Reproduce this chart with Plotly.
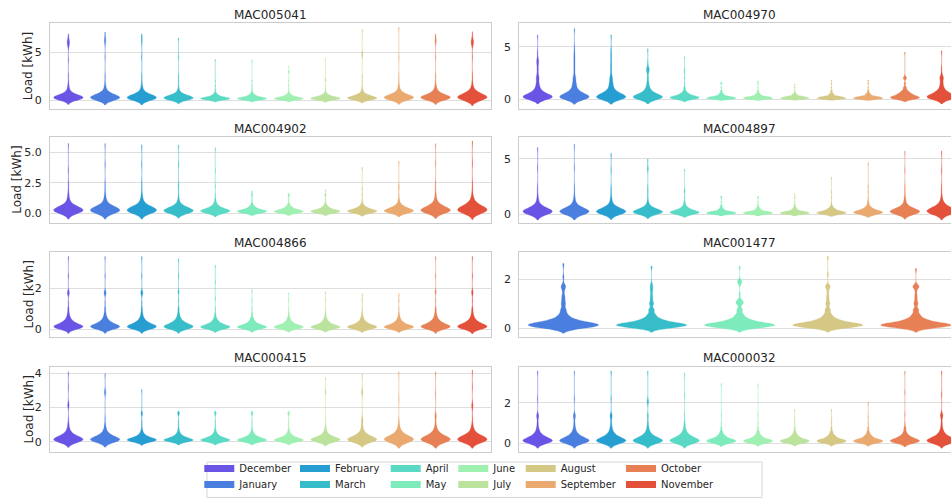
import math
import colorsys
import numpy as np
import plotly.graph_objects as go

# ---------------------------------------------------------------- data
MONTHS = ["December", "January", "February", "March", "April", "May",
          "June", "July", "August", "September", "October", "November"]
MAC001477_MONTHS = ["January", "March", "May", "August", "October"]

# sample levels (kWh) of the dense body of each distribution
BODY_LEVELS_LARGE = [0.0, 0.1, 0.2, 0.3, 0.45, 0.6, 0.8, 1.1, 1.5, 2.0]
BODY_LEVELS_SMALL = [0.0, 0.05, 0.1, 0.15, 0.2, 0.3, 0.4, 0.55, 0.75, 1.0]

# counts at the body levels, one row per month (December ... November)
MAC005041_COUNTS = [
    [6, 12, 16, 16, 12, 7, 4, 3, 2, 1], [6, 12, 16, 16, 12, 8, 5, 3, 2, 1],
    [6, 12, 16, 16, 12, 7, 4, 3, 2, 1], [7, 14, 16, 14, 10, 6, 3, 2, 1, 1],
    [10, 18, 18, 12, 7, 4, 2, 1, 1, 0], [10, 18, 18, 12, 7, 4, 2, 1, 1, 0],
    [10, 18, 18, 12, 7, 4, 2, 1, 1, 0], [9, 16, 18, 13, 8, 4, 2, 1, 1, 1],
    [8, 14, 16, 14, 10, 6, 3, 2, 1, 1], [6, 12, 16, 16, 12, 8, 5, 3, 2, 1],
    [6, 12, 15, 16, 13, 8, 5, 4, 2, 1], [5, 11, 15, 16, 13, 9, 6, 4, 2, 1]]
# sparse high readings (kWh), one list per month
MAC005041_TAILS = [
    [2.6, 4.2, 5.5, 5.8, 5.9, 6.0, 6.1, 6.2, 6.4, 6.8],
    [2.6, 4.5, 5.9, 6.2, 6.3, 6.5, 7.0],
    [2.6, 4.5, 6.0, 6.4, 6.8],
    [2.5, 4.5, 6.4],
    [2.0, 4.2], [2.0, 4.1], [2.0, 2.9, 3.0, 3.5], [2.2, 4.3],
    [2.5, 4.6, 4.8, 5.0, 7.3],
    [2.6, 4.5, 7.5],
    [2.6, 4.5, 6.0, 6.2, 6.4, 6.8],
    [2.6, 4.5, 5.8, 5.9, 6.0, 6.1, 6.2, 6.3, 7.0]]

MAC004970_COUNTS = [
    [8, 12, 14, 12, 10, 8, 6, 5, 4, 4], [8, 12, 14, 12, 10, 8, 6, 5, 5, 4],
    [8, 12, 14, 12, 10, 8, 6, 5, 5, 4], [8, 12, 14, 12, 9, 7, 5, 4, 3, 2],
    [10, 16, 16, 12, 8, 5, 3, 2, 1, 1], [14, 20, 16, 10, 5, 3, 2, 1, 1, 0],
    [14, 20, 16, 10, 5, 3, 2, 1, 1, 0], [14, 20, 16, 10, 5, 2, 1, 1, 0, 0],
    [14, 20, 16, 10, 5, 3, 2, 1, 1, 0], [14, 20, 16, 10, 5, 3, 2, 1, 1, 0],
    [10, 14, 14, 12, 10, 8, 6, 4, 2, 2], [8, 12, 14, 12, 10, 8, 6, 5, 4, 4]]
MAC004970_TAILS = [
    [2.3, 2.5, 2.8, 3.0, 3.3, 3.5, 3.6, 3.7, 4.0, 4.5, 6.0],
    [2.4, 2.7, 3.0, 3.3, 3.6, 3.9, 4.2, 4.5, 5.0, 6.6],
    [2.4, 2.7, 3.0, 3.3, 3.6, 4.0, 4.3, 4.7, 6.0],
    [2.5, 2.7, 2.8, 2.8, 2.9, 3.0, 3.5, 4.7],
    [2.5, 2.8, 4.0], [1.6], [1.7], [1.4], [1.8], [1.8],
    [2.0, 2.0, 2.2, 4.4],
    [2.0, 2.2, 2.5, 3.0, 4.5]]

MAC004902_COUNTS = [
    [6, 12, 16, 16, 12, 7, 4, 3, 2, 1], [6, 12, 16, 16, 12, 7, 4, 3, 2, 1],
    [6, 12, 16, 16, 12, 7, 4, 3, 2, 1], [7, 14, 16, 14, 10, 6, 3, 2, 1, 1],
    [8, 16, 18, 13, 8, 5, 3, 2, 1, 0], [10, 18, 18, 12, 7, 4, 2, 1, 1, 0],
    [10, 18, 18, 12, 7, 4, 2, 1, 1, 0], [10, 18, 18, 12, 7, 4, 2, 1, 1, 0],
    [9, 16, 18, 13, 8, 4, 2, 1, 1, 0], [8, 14, 16, 14, 10, 6, 3, 2, 1, 1],
    [6, 12, 16, 16, 12, 8, 5, 3, 2, 1], [5, 11, 15, 16, 13, 9, 6, 4, 2, 1]]
MAC004902_TAILS = [
    [2.5, 3.5, 5.6], [2.5, 4.0, 5.6],
    [2.5, 4.0, 5.5], [2.4, 4.0, 5.5],
    [2.2, 3.5, 5.3], [1.5, 1.8], [1.4, 1.6], [1.5, 1.9],
    [2.0, 3.7], [2.3, 4.2],
    [2.5, 4.1, 5.6], [2.5, 4.1, 5.8]]

MAC004897_COUNTS = [
    [6, 12, 16, 16, 12, 7, 4, 3, 2, 1], [6, 12, 16, 16, 12, 7, 4, 3, 2, 1],
    [6, 12, 16, 16, 12, 7, 4, 3, 2, 1], [7, 14, 16, 14, 10, 6, 3, 2, 1, 1],
    [10, 16, 16, 12, 8, 5, 3, 2, 1, 1], [14, 20, 16, 10, 5, 3, 2, 1, 1, 0],
    [14, 20, 16, 10, 5, 3, 2, 1, 1, 0], [14, 20, 16, 10, 5, 3, 2, 1, 1, 0],
    [12, 18, 16, 11, 7, 4, 2, 1, 1, 0], [10, 16, 16, 12, 8, 5, 3, 2, 1, 1],
    [6, 12, 16, 16, 12, 7, 4, 3, 2, 1], [5, 11, 15, 16, 13, 9, 6, 4, 2, 1]]
MAC004897_TAILS = [
    [2.5, 4.2, 5.9], [2.5, 4.2, 6.2],
    [2.4, 4.0, 5.4], [2.4, 4.0, 4.2, 4.9],
    [2.2, 4.0], [1.6], [1.6], [1.8], [2.0, 3.3], [2.5, 4.6],
    [2.5, 4.0, 5.6], [2.5, 4.0, 5.6]]

MAC004866_COUNTS = [
    [6, 10, 14, 14, 12, 10, 7, 5, 3, 2], [6, 10, 14, 14, 12, 10, 7, 5, 3, 2],
    [6, 10, 14, 14, 12, 10, 7, 5, 3, 2], [6, 10, 14, 14, 12, 10, 7, 5, 3, 2],
    [8, 12, 16, 14, 12, 9, 6, 4, 2, 1], [8, 12, 16, 14, 12, 9, 6, 4, 2, 1],
    [8, 12, 16, 14, 12, 9, 6, 4, 2, 1], [8, 12, 16, 14, 12, 9, 6, 4, 2, 1],
    [8, 12, 16, 14, 12, 9, 6, 4, 2, 1], [8, 12, 16, 14, 12, 9, 6, 4, 2, 1],
    [6, 10, 14, 14, 12, 10, 7, 5, 3, 2], [6, 10, 14, 14, 12, 10, 7, 5, 3, 2]]
MAC004866_TAILS = [
    [1.3, 1.7, 1.75, 1.8, 1.85, 2.6, 3.5],
    [1.3, 1.7, 1.75, 1.8, 1.85, 2.6, 3.5],
    [1.3, 1.7, 1.75, 1.8, 1.85, 2.6, 3.5],
    [1.4, 1.8, 1.85, 2.6, 3.4],
    [1.5, 2.3, 3.1], [1.4, 1.9], [1.4, 1.75], [1.4, 1.8],
    [1.4, 1.7], [1.4, 1.7],
    [1.4, 1.8, 1.85, 2.6, 3.5],
    [1.4, 1.75, 1.8, 1.85, 2.6, 3.5]]

# MAC001477: January, March, May, August, October
MAC001477_COUNTS = [
    [6, 12, 16, 18, 15, 10, 7, 5, 4, 3], [6, 12, 16, 18, 15, 10, 7, 5, 4, 3],
    [6, 12, 16, 18, 15, 10, 7, 5, 4, 3], [6, 12, 16, 18, 15, 10, 7, 5, 4, 3],
    [6, 12, 16, 18, 15, 10, 7, 5, 4, 3]]
MAC001477_TAILS = [
    [1.15, 1.25, 1.3, 1.45, 1.65, 1.7, 1.7, 1.75, 2.1, 2.6],
    [1.15, 1.25, 1.35, 1.5, 1.6, 1.7, 1.8, 2.5],
    [1.05, 1.1, 1.1, 1.15, 1.4, 1.8, 1.9, 1.9, 1.95, 2.5],
    [1.15, 1.25, 1.35, 1.5, 1.65, 1.7, 1.7, 1.75, 2.2, 2.9],
    [1.15, 1.25, 1.35, 1.5, 1.65, 1.7, 1.7, 1.72, 1.75, 2.4]]

MAC000415_COUNTS = [
    [6, 10, 14, 14, 12, 10, 7, 5, 3, 2], [6, 10, 14, 14, 12, 10, 7, 5, 3, 2],
    [8, 12, 16, 14, 12, 9, 6, 4, 2, 1], [8, 12, 16, 14, 12, 9, 6, 4, 2, 1],
    [8, 12, 16, 14, 12, 9, 6, 4, 2, 1], [8, 12, 16, 14, 12, 9, 6, 4, 2, 1],
    [8, 12, 16, 14, 12, 9, 6, 4, 2, 1], [7, 11, 15, 14, 12, 10, 6, 4, 3, 1],
    [6, 10, 14, 14, 12, 10, 7, 5, 3, 2], [6, 10, 14, 14, 12, 10, 7, 5, 3, 2],
    [6, 10, 14, 14, 12, 10, 7, 5, 3, 2], [6, 10, 14, 14, 12, 10, 7, 5, 3, 2]]
MAC000415_TAILS = [
    [1.3, 2.1, 2.15, 2.2, 3.2, 4.0],
    [1.4, 2.85, 2.9, 2.95, 3.9],
    [1.2, 1.6, 1.65, 1.7, 3.0],
    [1.2, 1.6, 1.65, 1.7, 1.75], [1.2, 1.6, 1.65, 1.7, 1.75],
    [1.2, 1.6, 1.65, 1.7, 1.75], [1.2, 1.6, 1.65, 1.7, 1.75],
    [1.3, 2.9, 2.95, 3.7],
    [1.25, 1.3, 1.35, 2.85, 2.9, 2.95, 3.9],
    [1.3, 2.5, 4.0],
    [1.45, 1.5, 1.55, 2.8, 4.0],
    [1.4, 2.05, 2.1, 2.15, 3.2, 4.1]]

MAC000032_COUNTS = [
    [6, 10, 14, 14, 12, 10, 7, 5, 3, 2], [6, 10, 14, 14, 12, 10, 7, 5, 3, 2],
    [6, 10, 14, 14, 12, 10, 7, 5, 3, 2], [6, 10, 14, 14, 12, 10, 7, 5, 3, 2],
    [6, 10, 14, 14, 12, 10, 7, 5, 3, 2], [8, 12, 16, 14, 12, 9, 6, 4, 2, 1],
    [8, 12, 16, 14, 12, 9, 6, 4, 2, 1], [8, 12, 16, 14, 12, 9, 6, 4, 2, 1],
    [8, 12, 16, 14, 12, 9, 6, 4, 2, 1], [8, 12, 16, 14, 12, 9, 6, 4, 2, 1],
    [7, 11, 15, 14, 12, 10, 6, 4, 3, 1], [6, 10, 14, 14, 12, 10, 7, 5, 3, 2]]
MAC000032_TAILS = [
    [1.3, 1.33, 1.36, 1.4, 2.2, 3.5],
    [1.3, 1.33, 1.36, 1.4, 2.2, 3.5],
    [1.3, 1.33, 1.36, 1.4, 2.2, 3.5],
    [1.34, 1.38, 2.0, 2.05, 2.1, 3.5],
    [1.4, 2.4, 3.4], [1.4, 2.9], [1.4, 2.9],
    [1.2, 1.64], [1.2, 1.64], [1.3, 1.97], [1.4, 2.5, 3.5],
    [1.3, 1.33, 1.36, 1.4, 1.45, 2.4, 3.5]]

Y_TICKS = {
    "MAC005041": ([0, 5], ["0", "5"]),
    "MAC004970": ([0, 5], ["0", "5"]),
    "MAC004902": ([0, 2.5, 5], ["0.0", "2.5", "5.0"]),
    "MAC004897": ([0, 5], ["0", "5"]),
    "MAC004866": ([0, 2], ["0", "2"]),
    "MAC001477": ([0, 2], ["0", "2"]),
    "MAC000415": ([0, 2, 4], ["0", "2", "4"]),
    "MAC000032": ([0, 2], ["0", "2"]),
}

# ---------------------------------------------------------------- style
# kernel bandwidth of each violin (kWh)
BANDWIDTH = {
    "MAC005041": [0.24, 0.26, 0.26, 0.2, 0.1, 0.1, 0.1, 0.12, 0.16, 0.24, 0.24, 0.3],
    "MAC004970": [0.22, 0.24, 0.24, 0.22, 0.12, 0.06, 0.06, 0.05, 0.05, 0.06, 0.12, 0.22],
    "MAC004902": [0.24, 0.24, 0.24, 0.2, 0.15, 0.1, 0.1, 0.1, 0.12, 0.15, 0.22, 0.26],
    "MAC004897": [0.26, 0.26, 0.24, 0.2, 0.14, 0.07, 0.07, 0.07, 0.1, 0.14, 0.22, 0.26],
    "MAC004866": [0.1, 0.1, 0.1, 0.1, 0.08, 0.07, 0.07, 0.07, 0.08, 0.08, 0.1, 0.11],
    "MAC001477": [0.1, 0.08, 0.08, 0.08, 0.08],
    "MAC000415": [0.16, 0.15, 0.1, 0.09, 0.09, 0.09, 0.09, 0.12, 0.15, 0.18, 0.18, 0.18],
    "MAC000032": [0.12, 0.12, 0.12, 0.12, 0.12, 0.08, 0.07, 0.07, 0.07, 0.07, 0.09, 0.12],
}

PANELS = [
    ("MAC005041", MONTHS, BODY_LEVELS_LARGE, MAC005041_COUNTS, MAC005041_TAILS),
    ("MAC004970", MONTHS, BODY_LEVELS_LARGE, MAC004970_COUNTS, MAC004970_TAILS),
    ("MAC004902", MONTHS, BODY_LEVELS_LARGE, MAC004902_COUNTS, MAC004902_TAILS),
    ("MAC004897", MONTHS, BODY_LEVELS_LARGE, MAC004897_COUNTS, MAC004897_TAILS),
    ("MAC004866", MONTHS, BODY_LEVELS_SMALL, MAC004866_COUNTS, MAC004866_TAILS),
    ("MAC001477", MAC001477_MONTHS, BODY_LEVELS_SMALL, MAC001477_COUNTS, MAC001477_TAILS),
    ("MAC000415", MONTHS, BODY_LEVELS_SMALL, MAC000415_COUNTS, MAC000415_TAILS),
    ("MAC000032", MONTHS, BODY_LEVELS_SMALL, MAC000032_COUNTS, MAC000032_TAILS),
]

Y_RANGES = {
    "MAC005041": [-0.94, 8.04], "MAC004970": [-0.92, 7.22],
    "MAC004902": [-0.82, 6.23], "MAC004897": [-0.81, 6.96],
    "MAC004866": [-0.39, 3.79], "MAC001477": [-0.37, 3.13],
    "MAC000415": [-0.60, 4.38], "MAC000032": [-0.44, 3.77],
}

W, H = 951, 499
COL_X = [(50.0, 490.7), (519.3, 951.0)]
FULL_COL_W = 440.7
ROW_Y = [(23.3, 109.0), (137.3, 223.3), (251.7, 337.3), (366.7, 452.3)]
Y_TITLE_X = [28.0, 17.5, 28.0, 28.0]
TEXT = "#262626"
FRAME = "#cccccc"
GRID = "#dedede"
FONT = "DejaVu Sans"


def month_rgb(name):
    i = MONTHS.index(name)
    x = (i + 1) / (len(MONTHS) + 1)
    r = min(1.0, abs(2 * x - 0.5))
    g = math.sin(math.pi * x)
    b = math.cos(math.pi * x / 2)
    h, l, s = colorsys.rgb_to_hls(r, g, b)
    r, g, b = colorsys.hls_to_rgb(h, l, s * 0.75)
    return round(r * 255), round(g * 255), round(b * 255)


def month_color(name, alpha=1.0):
    r, g, b = month_rgb(name)
    return "rgba(%d,%d,%d,%.2f)" % (r, g, b, alpha)


fig = go.Figure()
layout = dict(width=W, height=H, margin=dict(l=0, r=0, t=0, b=0),
              paper_bgcolor="white", plot_bgcolor="white",
              font=dict(family=FONT, color=TEXT), showlegend=True,
              violinmode="overlay")
annotations = []

for p, (name, months, levels, counts, tails) in enumerate(PANELS):
    row, col = divmod(p, 2)
    ax = p + 1
    xname = "xaxis" if ax == 1 else "xaxis%d" % ax
    yname = "yaxis" if ax == 1 else "yaxis%d" % ax
    xref = "x" if ax == 1 else "x%d" % ax
    yref = "y" if ax == 1 else "y%d" % ax
    x0, x1 = COL_X[col]
    y0, y1 = ROW_Y[row]
    n = len(months)
    span = n * (x1 - x0) / FULL_COL_W
    for k, m in enumerate(months):
        samples = np.concatenate([np.repeat(levels, counts[k]), tails[k]])
        bw = BANDWIDTH[name][k]
        fig.add_trace(go.Violin(
            x=np.full(len(samples), k, dtype=float), y=samples,
            xaxis=xref, yaxis=yref, name=m, showlegend=False,
            width=0.8, bandwidth=bw, spanmode="manual",
            span=[samples.min() - 2 * bw, samples.max() + 0.5 * bw],
            scalemode="width", points=False, fillcolor=month_color(m),
            line=dict(color=month_color(m, 0.45), width=0.6),
            hoverinfo="skip"))
    tv, tt = Y_TICKS[name]
    layout[xname] = dict(domain=[x0 / W, x1 / W], anchor=yref,
                         range=[-0.5, -0.5 + span], showticklabels=False,
                         showgrid=False, zeroline=False, ticks="",
                         showline=True, mirror=True, linecolor=FRAME,
                         linewidth=1.25, fixedrange=True)
    layout[yname] = dict(domain=[1 - y1 / H, 1 - y0 / H], anchor=xref,
                         range=Y_RANGES[name], tickvals=tv, ticktext=tt,
                         showgrid=True, gridcolor=GRID, gridwidth=1,
                         zeroline=False, ticks="", showline=True, mirror=True,
                         linecolor=FRAME, linewidth=1.25,
                         tickfont=dict(size=11, color=TEXT, family=FONT),
                         ticklabelstandoff=5, fixedrange=True)
    if col == 0:
        annotations.append(dict(text="Load [kWh]", xref="paper", yref="paper",
                                x=Y_TITLE_X[row] / W,
                                y=1 - (y0 + y1) / 2 / H, textangle=-90,
                                xanchor="center", yanchor="middle",
                                showarrow=False,
                                font=dict(size=12, color=TEXT, family=FONT)))
    annotations.append(dict(text=name, xref="paper", yref="paper",
                            x=(x0 + x0 + FULL_COL_W) / 2 / W,
                            y=1 - (y0 - 8.3) / H, xanchor="center",
                            yanchor="middle", showarrow=False,
                            font=dict(size=12, color=TEXT, family=FONT)))

# legend: one single-entry legend per month, laid out in 2 rows x 6 columns
LEGEND_COLUMNS = [["December", "January"], ["February", "March"],
                  ["April", "May"], ["June", "July"],
                  ["August", "September"], ["October", "November"]]
LEGEND_TEXT_X = [239.3, 335.0, 425.7, 493.3, 560.7, 661.0]
LEGEND_ROW_TOP = [454.0, 470.0]
li = 0
for pair, tx in zip(LEGEND_COLUMNS, LEGEND_TEXT_X):
    for r, m in enumerate(pair):
        li += 1
        key = "legend" if li == 1 else "legend%d" % li
        layout[key] = dict(x=(tx - 40) / W, xanchor="left",
                           y=1 - LEGEND_ROW_TOP[r] / H, yanchor="top",
                           orientation="v", bgcolor="rgba(0,0,0,0)",
                           borderwidth=0,
                           font=dict(size=10, color=TEXT, family=FONT),
                           itemclick=False, itemdoubleclick=False)
        fig.add_trace(go.Scatter(x=[None], y=[None], mode="lines", name=m,
                                 line=dict(color=month_color(m), width=7),
                                 legend=key, showlegend=True,
                                 hoverinfo="skip"))

layout["annotations"] = annotations
layout["shapes"] = [dict(type="rect", xref="paper", yref="paper",
                         x0=207 / W, x1=762 / W, y0=1 - 497.5 / H,
                         y1=1 - 462 / H, line=dict(color="#d6d6d6", width=1),
                         fillcolor="white", layer="below")]
fig.update_layout(**layout)
fig.write_html("out.html", config={"displayModeBar": False},
               post_script="document.body.style.margin='0px';")
